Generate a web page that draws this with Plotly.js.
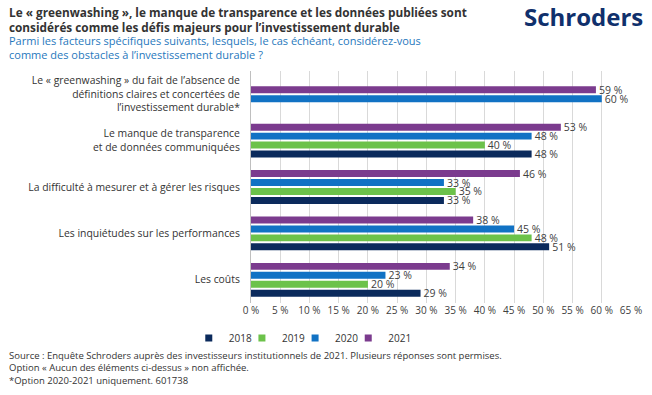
<!DOCTYPE html>
<html>
<head>
<meta charset="utf-8">
<script src="https://cdn.plot.ly/plotly-3.0.1.min.js"></script>
<style>html,body{margin:0;padding:0;background:#fff;}#chart{width:652px;height:395px;}</style>
</head>
<body>
<div id="chart"></div>
<script>
// ---- data ----
const categories = [
  "Le « greenwashing » du fait de l’absence de<br>définitions claires et concertées de<br>l’investissement durable*",
  "Le manque de transparence<br>et de données communiquées",
  "La difficulté à mesurer et à gérer les risques",
  "Les inquiétudes sur les performances",
  "Les coûts"
];
const years = ["2021", "2020", "2019", "2018"];
const v2021 = [59, 53, 46, 38, 34];
const v2020 = [60, 48, 33, 45, 23];
const v2019 = [null, 40, 35, 48, 20];
const v2018 = [null, 48, 33, 51, 29];
const xTicks = [0, 5, 10, 15, 20, 25, 30, 35, 40, 45, 50, 55, 60, 65];

// ---- styling ----
const colors = {"2021": "#7b3b8e", "2020": "#1172c4", "2019": "#6cc24a", "2018": "#0b2a5c"};
const series = [v2021, v2020, v2019, v2018];
const FONT = "Open Sans, Noto Sans, sans-serif";
const slot = 0.193, barW = 0.15;

// slots per category: present series centred within the category
const offsets = series.map(() => []);
categories.forEach((c, ci) => {
  const present = series.map((s, si) => s[ci] != null ? si : -1).filter(i => i >= 0);
  present.forEach((si, k) => {
    const centre = (k - (present.length - 1) / 2) * slot;
    offsets[si][ci] = centre - barW / 2;
  });
  series.forEach((s, si) => { if (offsets[si][ci] === undefined) offsets[si][ci] = 0; });
});

const catIdx = categories.map((c, i) => i);
const traces = series.map((vals, si) => ({
  type: "bar",
  orientation: "h",
  name: years[si],
  x: vals,
  y: catIdx,
  width: barW,
  offset: offsets[si],
  marker: {color: colors[years[si]]},
  text: vals.map(v => v == null ? "" : v + " %"),
  textposition: "outside",
  constraintext: "none",
  cliponaxis: false,
  textfont: {family: FONT, size: 10.5, color: "#404040"},
  hoverinfo: "skip",
  showlegend: false
}));
// legend entries (small square keys), in 2018 → 2021 order
years.slice().reverse().forEach(y => traces.push({
  type: "scatter", mode: "markers", name: y, x: [null], y: [null],
  marker: {symbol: "square", size: 7, color: colors[y]},
  hoverinfo: "skip", showlegend: true
}));

const layout = {
  width: 652, height: 395,
  margin: {l: 251, r: 21, t: 71, b: 92},
  paper_bgcolor: "#fff", plot_bgcolor: "#fff",
  barmode: "overlay",
  showlegend: true,
  font: {family: FONT, color: "#333"},
  xaxis: {
    range: [0, 65], tickvals: xTicks, ticktext: xTicks.map(t => t + " %"),
    showgrid: true, gridcolor: "#d9d9d9", gridwidth: 1,
    zeroline: false, showline: false, ticks: "",
    tickfont: {family: FONT, size: 10, color: "#404040"},
    fixedrange: true
  },
  yaxis: {
    type: "linear", range: [4.5, -0.5],
    tickvals: catIdx, ticktext: categories,
    showgrid: false, zeroline: false,
    showline: true, linecolor: "#bfbfbf", linewidth: 1,
    ticks: "", ticklabelstandoff: 8,
    tickfont: {family: FONT, size: 10.4, color: "#333"},
    fixedrange: true
  },
  legend: {
    orientation: "h", traceorder: "normal",
    x: 0.156, xanchor: "center", xref: "paper",
    y: -0.151, yanchor: "middle",
    font: {family: FONT, size: 10, color: "#333"},
    itemwidth: 30, indentation: -15,
    itemclick: false, itemdoubleclick: false
  },
  annotations: [
    {text: "<b>Le « greenwashing », le manque de transparence et les données publiées sont<br>considérés comme les défis majeurs pour l’investissement durable</b>",
     xref: "paper", yref: "paper", x: -0.642, y: 1.222, xanchor: "left", yanchor: "middle", align: "left",
     showarrow: false, font: {family: FONT, size: 11.8, color: "#333"}},
    {text: "Parmi les facteurs spécifiques suivants, lesquels, le cas échéant, considérez-vous<br>comme des obstacles à l’investissement durable ?",
     xref: "paper", yref: "paper", x: -0.642, y: 1.10, xanchor: "left", yanchor: "middle", align: "left",
     showarrow: false, font: {family: FONT, size: 11, color: "#1f78bd"}},
    {text: "<b>Schroders</b>",
     xref: "paper", yref: "paper", x: 1.037, y: 1.236, xanchor: "right", yanchor: "middle",
     showarrow: false, font: {family: FONT, size: 24, color: "#10306c"}},
    {text: "Source : Enquête Schroders auprès des investisseurs institutionnels de 2021. Plusieurs réponses sont permises.<br>Option « Aucun des éléments ci-dessus » non affichée.<br>*Option 2020-2021 uniquement. 601738",
     xref: "paper", yref: "paper", x: -0.642, y: -0.280, xanchor: "left", yanchor: "middle", align: "left",
     showarrow: false, font: {family: FONT, size: 9.5, color: "#333"}}
  ]
};

Plotly.newPlot("chart", traces, layout, {displayModeBar: false, staticPlot: true});
</script>
</body>
</html>
